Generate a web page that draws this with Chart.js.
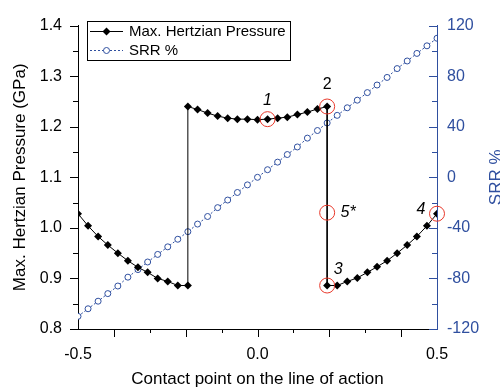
<!DOCTYPE html>
<html><head><meta charset="utf-8">
<script src="https://cdn.jsdelivr.net/npm/chart.js@4"></script>
<style>html,body{margin:0;padding:0;background:#fff}#wrap{width:500px;height:392px;position:relative}</style>
</head><body><div id="wrap"><canvas id="c" width="500" height="392"></canvas></div>
<script>
// ---- data ----
const pressureX = [-0.5, -0.472, -0.444, -0.417, -0.389, -0.361, -0.333, -0.306, -0.278, -0.25, -0.222, -0.194,
  -0.194, -0.167, -0.139, -0.111, -0.083, -0.056, -0.028, 0, 0.028, 0.056, 0.083, 0.111, 0.139, 0.167, 0.194,
  0.194, 0.222, 0.25, 0.278, 0.306, 0.333, 0.361, 0.389, 0.417, 0.444, 0.472, 0.5];
const pressureGPa = [1.028, 1.004, 0.983, 0.966, 0.950, 0.935, 0.922, 0.912, 0.900, 0.894, 0.886, 0.886,
  1.240, 1.234, 1.227, 1.221, 1.217, 1.215, 1.215, 1.214, 1.215, 1.217, 1.219, 1.224, 1.229, 1.235, 1.240,
  0.886, 0.886, 0.894, 0.901, 0.912, 0.923, 0.935, 0.950, 0.966, 0.983, 1.004, 1.028];
const srrX = [-0.5, -0.472, -0.444, -0.417, -0.389, -0.361, -0.333, -0.306, -0.278, -0.25, -0.222, -0.194,
  -0.167, -0.139, -0.111, -0.083, -0.056, -0.028, 0, 0.028, 0.056, 0.083, 0.111, 0.139, 0.167, 0.194,
  0.222, 0.25, 0.278, 0.306, 0.333, 0.361, 0.389, 0.417, 0.444, 0.472, 0.5];
const srrPct = [-110, -104, -98, -92, -86, -79, -73, -67, -61, -55, -49, -43,
  -37, -31, -24, -18, -12, -6, 0, 6, 12, 18, 24, 31, 37, 43,
  49, 55, 61, 67, 73, 79, 86, 92, 98, 104, 110];
const markX = [0.028, 0.194, 0.194, 0.5, 0.194];
const markY = [1.215, 1.240, 0.886, 1.028, 1.030];
const markLabels = ['1', '2', '3', '4', '5*'];
const xMajorTicks = [-0.4, -0.2, 0, 0.2, 0.4];
const xMinorTicks = [-0.3, -0.1, 0.1, 0.3];
const yMajorTicks = [0.8, 0.9, 1.0, 1.1, 1.2, 1.3, 1.4];
const yMinorTicks = [0.85, 0.95, 1.05, 1.15, 1.25, 1.35];
const y2MajorTicks = [-120, -80, -40, 0, 40, 80, 120];
const y2MinorTicks = [-100, -60, -20, 20, 60, 100];
const seriesNames = ['Max. Hertzian Pressure', 'SRR %'];

// ---- styles ----
const BLUE = '#2f4f9f';
const RED = '#e8382a';
const FONT = "'Liberation Sans', Arial, sans-serif";
// label offsets (px) relative to marked points
const labelOffsets = [[0, -19], [0, -22], [11, -16], [-16, -4], [21, 0]];
const labelItalic = [true, false, true, true, true];

Chart.defaults.font.family = FONT;
Chart.defaults.color = '#000';

const decor = {
  id: 'decor',
  afterDatasetsDraw(chart) {
    const ctx = chart.ctx;
    const xs = chart.scales.x, ys = chart.scales.y, y2 = chart.scales.y2;
    const a = chart.chartArea;
    ctx.save();
    ctx.lineWidth = 1;
    // ticks
    const hx = v => Math.round(xs.getPixelForValue(v)) + 0.5;
    const hy = (s, v) => Math.round(s.getPixelForValue(v)) + 0.5;
    ctx.strokeStyle = '#000';
    ctx.beginPath();
    xMajorTicks.forEach(v => { const p = hx(v); ctx.moveTo(p, a.bottom); ctx.lineTo(p, a.bottom + 8); });
    xMinorTicks.forEach(v => { const p = hx(v); ctx.moveTo(p, a.bottom); ctx.lineTo(p, a.bottom + 4); });
    yMajorTicks.forEach(v => { const p = hy(ys, v); ctx.moveTo(a.left, p); ctx.lineTo(a.left - 8, p); });
    yMinorTicks.forEach(v => { const p = hy(ys, v); ctx.moveTo(a.left, p); ctx.lineTo(a.left - 5, p); });
    ctx.stroke();
    ctx.strokeStyle = BLUE;
    ctx.beginPath();
    y2MajorTicks.forEach(v => { const p = hy(y2, v); ctx.moveTo(a.right, p); ctx.lineTo(a.right - 8, p); });
    y2MinorTicks.forEach(v => { const p = hy(y2, v); ctx.moveTo(a.right, p); ctx.lineTo(a.right - 5, p); });
    ctx.stroke();

    // annotation labels
    ctx.fillStyle = '#000';
    ctx.textAlign = 'center';
    ctx.textBaseline = 'middle';
    markLabels.forEach((t, i) => {
      ctx.font = (labelItalic[i] ? 'italic ' : '') + '16px ' + FONT;
      const px = xs.getPixelForValue(markX[i]) + labelOffsets[i][0];
      const py = ys.getPixelForValue(markY[i]) + labelOffsets[i][1];
      ctx.fillText(t, px, py);
    });

    // legend
    ctx.strokeStyle = '#000';
    ctx.strokeRect(87.5, 21.5, 203, 39);
    const rows = [31, 50];
    // row 1
    ctx.beginPath(); ctx.moveTo(90, rows[0] + 0.5); ctx.lineTo(123, rows[0] + 0.5); ctx.stroke();
    ctx.fillStyle = '#000';
    Chart.helpers.drawPoint(ctx, {pointStyle: 'rectRot', radius: 4, rotation: 0, borderWidth: 0}, 106.5, rows[0] + 0.5);
    // row 2
    ctx.strokeStyle = BLUE;
    ctx.setLineDash([2, 2]);
    ctx.beginPath(); ctx.moveTo(90, rows[1] + 0.5); ctx.lineTo(123, rows[1] + 0.5); ctx.stroke();
    ctx.setLineDash([]);
    ctx.fillStyle = '#fff';
    ctx.beginPath(); ctx.arc(106.5, rows[1] + 0.5, 3, 0, Math.PI * 2); ctx.fill(); ctx.stroke();
    ctx.fillStyle = '#000';
    ctx.font = '15px ' + FONT;
    ctx.textAlign = 'left';
    ctx.fillText(seriesNames[0], 129, rows[0] + 1);
    ctx.fillText(seriesNames[1], 129, rows[1] + 1);

    // right axis title (reads bottom to top, clipped at canvas edge)
    ctx.save();
    ctx.translate(501, (a.top + a.bottom) / 2);
    ctx.rotate(-Math.PI / 2);
    ctx.fillStyle = BLUE;
    ctx.font = '17px ' + FONT;
    ctx.textAlign = 'center';
    ctx.textBaseline = 'alphabetic';
    ctx.fillText('SRR %', 0, 0);
    ctx.restore();
    ctx.restore();
  }
};

new Chart(document.getElementById('c'), {
  type: 'line',
  data: {
    datasets: [
      {
        label: 'marks', data: markX.map((x, i) => ({x, y: markY[i]})), yAxisID: 'y',
        showLine: false, pointStyle: 'circle', pointRadius: 7.5, pointBorderColor: RED,
        pointBackgroundColor: 'rgba(0,0,0,0)', pointBorderWidth: 1, clip: false
      },
      {
        label: seriesNames[0], data: pressureX.map((x, i) => ({x, y: pressureGPa[i]})), yAxisID: 'y',
        borderColor: '#000', borderWidth: 1, tension: 0, pointStyle: 'rectRot', pointRadius: 4,
        pointBackgroundColor: '#000', pointBorderColor: '#000', pointBorderWidth: 0
      },
      {
        label: seriesNames[1], data: srrX.map((x, i) => ({x, y: srrPct[i]})), yAxisID: 'y2',
        borderColor: BLUE, borderWidth: 1, borderDash: [2, 2], tension: 0, pointStyle: 'circle', pointRadius: 3,
        pointBackgroundColor: '#fff', pointBorderColor: BLUE, pointBorderWidth: 1
      }
    ]
  },
  options: {
    responsive: false, animation: false, devicePixelRatio: 1,
    layout: {padding: {top: 16, left: 0, right: 0, bottom: 0}},
    plugins: {legend: {display: false}, tooltip: {enabled: false}},
    elements: {point: {hoverRadius: 4}},
    scales: {
      x: {
        type: 'linear', min: -0.5, max: 0.5, position: 'bottom',
        grid: {display: false, drawTicks: false, tickLength: 0},
        border: {display: true, color: '#000', width: 1},
        ticks: {stepSize: 0.5, padding: 16, maxRotation: 0, autoSkip: false, color: '#000',
          font: {size: 16}, callback: v => Number(v).toFixed(1)},
        title: {display: true, text: 'Contact point on the line of action', color: '#000',
          font: {size: 17}, padding: {top: 4, bottom: 2}},
        afterFit: s => { s.height = 63; }
      },
      y: {
        type: 'linear', min: 0.8, max: 1.4, position: 'left',
        grid: {display: false, drawTicks: false, tickLength: 0},
        border: {display: true, color: '#000', width: 1},
        ticks: {stepSize: 0.1, padding: 16, color: '#000', font: {size: 16}, callback: v => Number(v).toFixed(1)},
        title: {display: true, text: 'Max. Hertzian Pressure (GPa)', color: '#000',
          font: {size: 17}, padding: {top: 10, bottom: 0}},
        afterFit: s => { s.width = 78; }
      },
      y2: {
        type: 'linear', min: -120, max: 120, position: 'right',
        grid: {display: false, drawTicks: false, tickLength: 0},
        border: {display: true, color: BLUE, width: 1},
        ticks: {stepSize: 40, padding: 10, color: BLUE, font: {size: 16}},
        afterFit: s => { s.width = 63; }
      }
    }
  },
  plugins: [decor]
});
</script>
</body></html>
